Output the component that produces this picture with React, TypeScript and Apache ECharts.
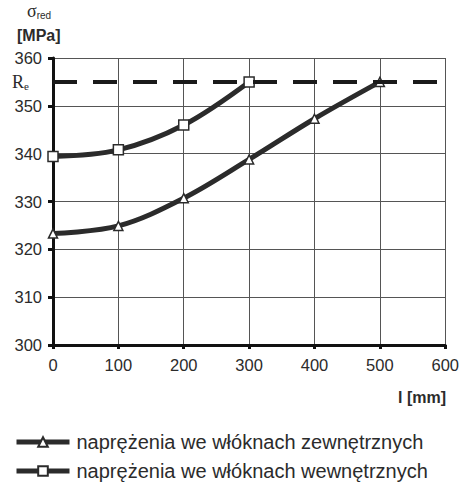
import React, { useEffect, useRef } from "react";
import * as echarts from "echarts";

const xOuter = [0, 100, 200, 300, 400, 500];
const yOuter = [323.3, 324.9, 330.7, 338.8, 347.3, 355];
const xInner = [0, 100, 200, 300];
const yInner = [339.4, 340.8, 346.0, 355];
const Re = 355;
const nameOuter = "naprężenia we włóknach zewnętrznych";
const nameInner = "naprężenia we włóknach wewnętrznych";

const FONT = "Liberation Sans, Arial, sans-serif";
const SERIF = "Liberation Serif, Times New Roman, serif";
const DARK = "#2b2b2b";

const legendBase = (name: string, top: number) => ({
  orient: "horizontal",
  left: 9,
  top,
  itemWidth: 53,
  itemHeight: 12,
  textStyle: { color: DARK, fontSize: 20, fontFamily: FONT, padding: [0, 0, 0, 2] },
  lineStyle: { width: 5, color: DARK },
  data: [name],
});

export default function App() {
  const ref = useRef<HTMLDivElement>(null);
  useEffect(() => {
    const chart = echarts.init(ref.current!, undefined, { renderer: "svg" });
    chart.setOption({
      animation: false,
      backgroundColor: "#ffffff",
      textStyle: { fontFamily: FONT },
      grid: { left: 53, right: 16, top: 58, bottom: 139 },
      xAxis: {
        type: "value",
        min: 0,
        max: 600,
        interval: 100,
        axisLine: { show: true, onZero: false, lineStyle: { color: "#111", width: 3 } },
        axisTick: { show: true, length: 4, lineStyle: { color: "#111", width: 3 } },
        axisLabel: { color: DARK, fontSize: 16.5, margin: 11, fontFamily: FONT },
        splitLine: { show: true, lineStyle: { color: "#555", width: 1 } },
      },
      yAxis: {
        type: "value",
        min: 300,
        max: 360,
        interval: 10,
        axisLine: { show: true, lineStyle: { color: "#111", width: 3 } },
        axisTick: { show: true, length: 5, lineStyle: { color: "#111", width: 3 } },
        axisLabel: { color: DARK, fontSize: 16.5, margin: 11, fontFamily: FONT },
        splitLine: { show: true, lineStyle: { color: "#555", width: 1 } },
      },
      legend: [legendBase(nameOuter, 427), legendBase(nameInner, 456)],
      graphic: [
        {
          type: "text",
          left: 17,
          top: 27,
          style: {
            text: "[MPa]",
            fontSize: 16,
            fontWeight: "bold",
            fill: DARK,
            fontFamily: FONT,
          },
        },
        {
          type: "text",
          left: 27,
          top: 2,
          style: {
            text: "{s|σ}{sub|red}",
            rich: {
              s: { fontSize: 18, fill: DARK, fontFamily: SERIF },
              sub: { fontSize: 10, fill: DARK, fontFamily: FONT, padding: [9, 0, 0, 0] },
            },
          },
        },
        {
          type: "text",
          right: 16,
          top: 389,
          style: {
            text: "l [mm]",
            fontSize: 16,
            fontWeight: "bold",
            fill: DARK,
            fontFamily: FONT,
          },
        },
      ],
      series: [
        {
          name: nameOuter,
          type: "line",
          data: xOuter.map((x, i) => [x, yOuter[i]]),
          smooth: 0.35,
          symbol: "triangle",
          symbolSize: 9,
          color: DARK,
          lineStyle: { color: DARK, width: 5 },
          itemStyle: { color: "#ffffff", borderColor: DARK, borderWidth: 1.5 },
          z: 3,
          markLine: {
            silent: true,
            symbol: "none",
            data: [{ yAxis: Re }],
            lineStyle: { color: "#1a1a1a", width: 4, type: [24, 16] },
            label: {
              show: true,
              position: "start",
              distance: 24,
              formatter: "{r|R}{e|e}",
              rich: {
                r: { fontSize: 18, color: DARK, fontFamily: SERIF },
                e: { fontSize: 11, color: DARK, fontFamily: SERIF, padding: [9, 0, 0, 0] },
              },
            },
          },
        },
        {
          name: nameInner,
          type: "line",
          data: xInner.map((x, i) => [x, yInner[i]]),
          smooth: 0.35,
          symbol: "rect",
          symbolSize: 10,
          color: DARK,
          lineStyle: { color: DARK, width: 5 },
          itemStyle: { color: "#ffffff", borderColor: DARK, borderWidth: 1.5 },
          z: 3,
        },
      ],
    });
    return () => chart.dispose();
  }, []);
  return <div ref={ref} style={{ width: 462, height: 484, position: "absolute", left: 0, top: 0 }} />;
}
